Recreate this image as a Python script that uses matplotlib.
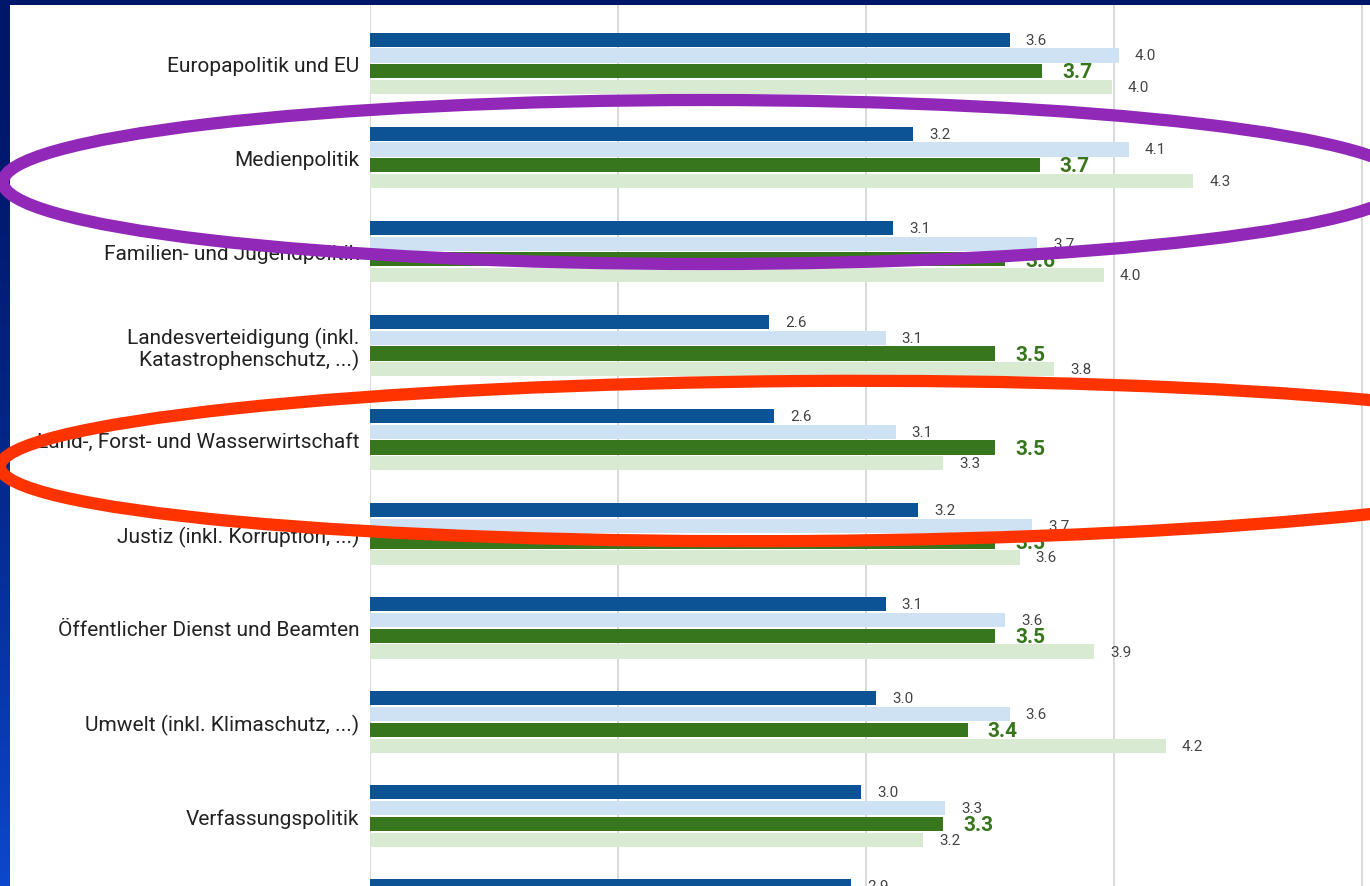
import numpy as np
import matplotlib
matplotlib.use("Agg")
import matplotlib.pyplot as plt
from matplotlib.patches import Ellipse, Rectangle
from matplotlib.transforms import IdentityTransform

plt.rcParams['font.family'] = ['Roboto', 'DejaVu Sans']

# ---------------- data ----------------
categories = [
    "Europapolitik und EU",
    "Medienpolitik",
    "Familien- und Jugendpolitik",
    "Landesverteidigung (inkl.\nKatastrophenschutz, ...)",
    "Land-, Forst- und Wasserwirtschaft",
    "Justiz (inkl. Korruption, ...)",
    "Öffentlicher Dienst und Beamten",
    "Umwelt (inkl. Klimaschutz, ...)",
    "Verfassungspolitik",
    "",
]
series_dark_blue = [3.58, 3.19, 3.11, 2.61, 2.63, 3.21, 3.08, 3.04, 2.98, 2.94]
series_light_blue = [4.02, 4.06, 3.69, 3.08, 3.12, 3.67, 3.56, 3.58, 3.32, np.nan]
series_dark_green = [3.71, 3.70, 3.56, 3.52, 3.52, 3.52, 3.52, 3.41, 3.31, np.nan]
series_light_green = [3.99, 4.32, 3.96, 3.76, 3.31, 3.62, 3.92, 4.21, 3.23, np.nan]
x_ticks = [1, 2, 3, 4, 5]

# highlight ellipses (figure pixels: cx, cy-from-top, width, height, angle, colour)
highlights = [
    (705, 183, 1404, 164, 0.0, "#9128b8"),
    (805, 462, 1610, 160, 0.4, "#ff3300"),
]

# ---------------- styling ----------------
W, H = 1370, 887
colors = ["#0b5394", "#cfe2f3", "#38761d", "#d9ead3"]
series = [series_dark_blue, series_light_blue, series_dark_green, series_light_green]

fig = plt.figure(figsize=(W / 100, H / 100), dpi=100)

# background gradient frame
bg = fig.add_axes([0, 0, 1, 1], zorder=-5)
grad = np.linspace(0, 1, 256) ** 1.6
top = np.array([0, 22, 104]) / 255
bot = np.array([12, 72, 205]) / 255
img = (top[None, :] * (1 - grad[:, None]) + bot[None, :] * grad[:, None])[:, None, :]
bg.imshow(img, aspect="auto", extent=[0, 1, 0, 1], origin="upper")
bg.add_patch(Rectangle((10 / W, 0), 1 - 10 / W, (H - 6) / H, transform=bg.transAxes,
                       facecolor="white", edgecolor="none"))
bg.set_axis_off()

# main axes
left_px, top_px = 370, 6
ax = fig.add_axes([left_px / W, 0, 1 - left_px / W, (H - top_px) / H])
ax.set_facecolor("none")

pitch = 94.1
c0 = 64.3
n = len(categories)
ypos = np.arange(n)
bar_step = 15.8 / pitch
bar_h = 14.2 / pitch
offsets = (np.arange(4) - 1.5) * bar_step

for i, (vals, col) in enumerate(zip(series, colors)):
    vals = np.array(vals, dtype=float)
    ax.barh(ypos + offsets[i], vals - 1, left=1, height=bar_h, color=col,
            edgecolor="none", zorder=3)
    for y, v in zip(ypos + offsets[i], vals):
        if np.isnan(v):
            continue
        if i == 2:
            ax.annotate(f"{v:.1f}", (v, y), xytext=(14.5, -0.5), textcoords="offset points",
                        va="center", ha="left", fontsize=15, fontweight="bold",
                        color="#38761d", zorder=5)
        else:
            ax.annotate(f"{v:.1f}", (v, y), xytext=(11.5, 0), textcoords="offset points",
                        va="center", ha="left", fontsize=11, color="#444444", zorder=5)

ax.set_xticks(x_ticks)
ax.tick_params(axis="x", length=0, labelbottom=False)
ax.grid(axis="x", color="#dadada", linewidth=1.4, zorder=0)
ax.set_yticks(ypos)
ax.set_yticklabels(categories, fontsize=15, color="#222222")
ax.tick_params(axis="y", length=0, pad=7.5)
for lab in ax.get_yticklabels():
    lab.set_linespacing(1.05)
for s in ax.spines.values():
    s.set_visible(False)
ax.set_xlim(1, 1 + (W - left_px) / 248.0)
ax.set_ylim((H - c0) / pitch, -(c0 - top_px) / pitch)

# highlight ellipses on top
for cx, cy, w, h, ang, col in highlights:
    e = Ellipse((cx, H - cy), w, h, angle=ang, transform=IdentityTransform(),
                facecolor="none", edgecolor=col, linewidth=8.8, zorder=20)
    fig.add_artist(e)

fig.savefig("out.png", dpi=100)
